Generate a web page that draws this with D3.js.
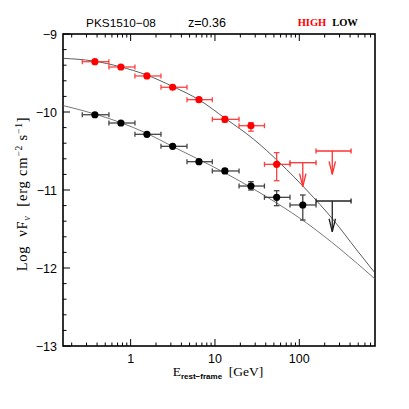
<!DOCTYPE html>
<html>
<head>
<meta charset="utf-8">
<script src="https://cdn.jsdelivr.net/npm/d3@7"></script>
<style>
  body { margin: 0; background: #fff; }
  svg { display: block; }
</style>
</head>
<body>
<div id="canvas"></div>
<script>
// HIGH state detections (E in GeV, log nuFnu)
var highE = [0.377, 0.767, 1.56, 3.15, 6.46, 13.1, 26.7, 53.9];
var highElo = [0.267, 0.553, 1.125, 2.29, 4.66, 9.3, 19.3, 38.6];
var highEhi = [0.553, 1.125, 2.29, 4.66, 9.3, 19.3, 38.6, 77.6];
var highF = [-9.355, -9.423, -9.538, -9.683, -9.842, -10.094, -10.176, -10.671];
var highFup = [0, 0, 0, 0, 0, 0.035, 0.04, 0.15];
var highFdn = [0, 0, 0, 0, 0, 0.035, 0.07, 0.21];
// HIGH upper limits
var highUlE = [110, 246];
var highUlElo = [77.6, 158];
var highUlEhi = [158, 411];
var highUlF = [-10.65, -10.5];
var highUlTip = [-10.957, -10.8];

// LOW state detections
var lowE = [0.377, 0.767, 1.56, 3.15, 6.46, 13.1, 26.7, 53.9, 110];
var lowElo = [0.267, 0.553, 1.125, 2.29, 4.66, 9.3, 19.3, 38.6, 77.6];
var lowEhi = [0.553, 1.125, 2.29, 4.66, 9.3, 19.3, 38.6, 77.6, 158];
var lowF = [-10.035, -10.141, -10.286, -10.44, -10.637, -10.756, -10.949, -11.094, -11.192];
var lowFup = [0, 0, 0, 0, 0, 0.03, 0.056, 0.085, 0.128];
var lowFdn = [0, 0, 0, 0, 0, 0.03, 0.051, 0.107, 0.193];
var lowUlE = [246];
var lowUlElo = [158];
var lowUlEhi = [411];
var lowUlF = [-11.141];
var lowUlTip = [-11.535];

// model curves
var highModelE = [0.157, 0.360, 0.746, 1.55, 3.20, 6.52, 13.2, 28.5, 59.0, 122, 254, 480, 790];
var highModelF = [-9.312, -9.346, -9.419, -9.526, -9.676, -9.846, -10.081, -10.346, -10.654, -11.0, -11.385, -11.769, -12.064];
var lowModelE = [0.157, 0.378, 0.767, 1.55, 3.15, 6.46, 13.2, 26.7, 54.0, 122, 304, 790];
var lowModelF = [-9.917, -10.026, -10.137, -10.273, -10.442, -10.609, -10.782, -10.968, -11.167, -11.423, -11.756, -12.141];

var yTicks = [-9, -10, -11, -12, -13];
var xTicks = [1, 10, 100];

var width = 409, height = 409;
var padL = 63, padR = 375, padT = 34, padB = 346;

var svg = d3.select("#canvas").append("svg")
  .attr("width", width)
  .attr("height", height);

var x = d3.scaleLog().domain([0.1578, 790]).range([padL, padR]);
var y = d3.scaleLinear().domain([-13, -9]).range([padB, padT]);

var sans = "'Liberation Sans', Arial, sans-serif";
var serif = "'Liberation Serif', 'Times New Roman', serif";

// minor/major ticks for the log x axis
var xMinor = [];
[0.1, 1, 10, 100].forEach(function (dec) {
  for (var k = 2; k <= 9; k++) {
    var v = dec * k;
    if (v >= 0.16 && v <= 790) xMinor.push(v);
  }
});

var ticks = svg.append("g").attr("stroke", "#000").attr("stroke-width", 1);
// bottom and top
xMinor.forEach(function (v) {
  ticks.append("line").attr("x1", x(v)).attr("x2", x(v)).attr("y1", padB).attr("y2", padB - 3.5);
  ticks.append("line").attr("x1", x(v)).attr("x2", x(v)).attr("y1", padT).attr("y2", padT + 3.5);
});
xTicks.forEach(function (v) {
  ticks.append("line").attr("x1", x(v)).attr("x2", x(v)).attr("y1", padB).attr("y2", padB - 7);
  ticks.append("line").attr("x1", x(v)).attr("x2", x(v)).attr("y1", padT).attr("y2", padT + 7);
});
// left
for (var i = 0; i <= 20; i++) {
  var v = -13 + i * 0.2;
  var major = i % 5 == 0;
  ticks.append("line").attr("x1", padL).attr("x2", padL + (major ? 7 : 3.5))
    .attr("y1", y(v)).attr("y2", y(v));
}

// frame
svg.append("rect")
  .attr("x", padL).attr("y", padT)
  .attr("width", padR - padL).attr("height", padB - padT)
  .attr("fill", "none").attr("stroke", "#000").attr("stroke-width", 1.6);

// tick labels
svg.append("g").selectAll("text").data(yTicks).enter().append("text")
  .attr("x", padL - 6).attr("y", function (d) { return y(d) + 4.5; })
  .attr("text-anchor", "end")
  .attr("font-family", sans).attr("font-size", 12.5)
  .text(function (d) { return "\u2212" + Math.abs(d); });

svg.append("g").selectAll("text").data(xTicks).enter().append("text")
  .attr("x", function (d) { return x(d); }).attr("y", padB + 17)
  .attr("text-anchor", "middle")
  .attr("font-family", sans).attr("font-size", 12.5)
  .text(function (d) { return d; });

// axis titles
var xl = svg.append("text")
  .attr("x", 218).attr("y", 376)
  .attr("text-anchor", "middle")
  .attr("font-family", serif).attr("font-size", 13.5);
xl.append("tspan").text("E");
xl.append("tspan").attr("font-family", sans).attr("font-weight", "bold").attr("font-size", 8)
  .attr("dy", 3).text("rest\u2212frame");
xl.append("tspan").attr("dy", -3).text("\u00a0\u00a0[GeV]");

var yl = svg.append("text")
  .attr("transform", "translate(27,194) rotate(-90)")
  .attr("text-anchor", "middle")
  .attr("letter-spacing", 0.8)
  .attr("font-family", serif).attr("font-size", 14.5);
yl.append("tspan").text("Log\u00a0\u00a0\u03bdF");
yl.append("tspan").attr("font-size", 9.5).attr("font-style", "italic").attr("dy", 3).text("\u03bd");
yl.append("tspan").attr("dy", -3).text("\u00a0\u00a0[erg\u00a0cm");
yl.append("tspan").attr("font-size", 9.5).attr("dy", -5.5).text("\u22122");
yl.append("tspan").attr("dy", 5.5).text("\u00a0s");
yl.append("tspan").attr("font-size", 9.5).attr("dy", -5.5).text("\u22121");
yl.append("tspan").attr("dy", 5.5).text("]");

// header
svg.append("text").attr("x", 121).attr("y", 27).attr("text-anchor", "middle")
  .attr("font-family", sans).attr("font-size", 11.8).text("PKS1510\u221208");
svg.append("text").attr("x", 207).attr("y", 27).attr("text-anchor", "middle")
  .attr("font-family", sans).attr("font-size", 12.5).text("z=0.36");
svg.append("text").attr("x", 312).attr("y", 26).attr("text-anchor", "middle")
  .attr("font-family", serif).attr("font-weight", "bold").attr("font-size", 10.5)
  .attr("fill", "#ff0000").text("HIGH");
svg.append("text").attr("x", 345).attr("y", 26).attr("text-anchor", "middle")
  .attr("font-family", serif).attr("font-weight", "bold").attr("font-size", 10.5)
  .attr("fill", "#000").text("LOW");

// clip for model curves
svg.append("defs").append("clipPath").attr("id", "plotclip")
  .append("rect").attr("x", padL).attr("y", padT)
  .attr("width", padR - padL).attr("height", padB - padT);

var line = d3.line()
  .x(function (d) { return x(d[0]); })
  .y(function (d) { return y(d[1]); })
  .curve(d3.curveMonotoneX);

svg.append("path")
  .attr("d", line(d3.zip(highModelE, highModelF)))
  .attr("clip-path", "url(#plotclip)")
  .attr("fill", "none").attr("stroke", "#333").attr("stroke-width", 0.8);
svg.append("path")
  .attr("d", line(d3.zip(lowModelE, lowModelF)))
  .attr("clip-path", "url(#plotclip)")
  .attr("fill", "none").attr("stroke", "#555").attr("stroke-width", 0.8);

function drawPoints(E, Elo, Ehi, F, Fup, Fdn, barColor, dotColor) {
  var g = svg.append("g").attr("stroke", barColor).attr("stroke-width", 1.3);
  E.forEach(function (e, i) {
    var cx = x(e), cy = y(F[i]);
    g.append("line").attr("x1", x(Elo[i])).attr("x2", x(Ehi[i])).attr("y1", cy).attr("y2", cy);
    g.append("line").attr("x1", x(Elo[i])).attr("x2", x(Elo[i])).attr("y1", cy - 2.5).attr("y2", cy + 2.5);
    g.append("line").attr("x1", x(Ehi[i])).attr("x2", x(Ehi[i])).attr("y1", cy - 2.5).attr("y2", cy + 2.5);
    if (Fup[i] > 0 || Fdn[i] > 0) {
      var yt = y(F[i] + Fup[i]), yb = y(F[i] - Fdn[i]);
      g.append("line").attr("x1", cx).attr("x2", cx).attr("y1", yt).attr("y2", yb);
      g.append("line").attr("x1", cx - 2.8).attr("x2", cx + 2.8).attr("y1", yt).attr("y2", yt);
      g.append("line").attr("x1", cx - 2.8).attr("x2", cx + 2.8).attr("y1", yb).attr("y2", yb);
    }
  });
  svg.append("g").selectAll("circle").data(E).enter().append("circle")
    .attr("cx", function (d) { return x(d); })
    .attr("cy", function (d, i) { return y(F[i]); })
    .attr("r", 3.6)
    .attr("fill", dotColor);
}

function drawLimits(E, Elo, Ehi, F, Tip, color) {
  var g = svg.append("g").attr("stroke", color).attr("stroke-width", 1.3).attr("fill", "none");
  E.forEach(function (e, i) {
    var cx = x(e), cy = y(F[i]), ty = y(Tip[i]);
    g.append("line").attr("x1", x(Elo[i])).attr("x2", x(Ehi[i])).attr("y1", cy).attr("y2", cy);
    g.append("line").attr("x1", x(Elo[i])).attr("x2", x(Elo[i])).attr("y1", cy - 2.5).attr("y2", cy + 2.5);
    g.append("line").attr("x1", x(Ehi[i])).attr("x2", x(Ehi[i])).attr("y1", cy - 2.5).attr("y2", cy + 2.5);
    g.append("line").attr("x1", cx).attr("x2", cx).attr("y1", cy).attr("y2", ty);
    g.append("path").attr("d", "M" + (cx - 3.2) + "," + (ty - 13) + "L" + cx + "," + ty + "L" + (cx + 3.2) + "," + (ty - 13));
  });
}

drawPoints(highE, highElo, highEhi, highF, highFup, highFdn, "#ff4040", "#ff0000");
drawLimits(highUlE, highUlElo, highUlEhi, highUlF, highUlTip, "#ff3030");
drawPoints(lowE, lowElo, lowEhi, lowF, lowFup, lowFdn, "#444", "#000");
drawLimits(lowUlE, lowUlElo, lowUlEhi, lowUlF, lowUlTip, "#222");
</script>
</body>
</html>
